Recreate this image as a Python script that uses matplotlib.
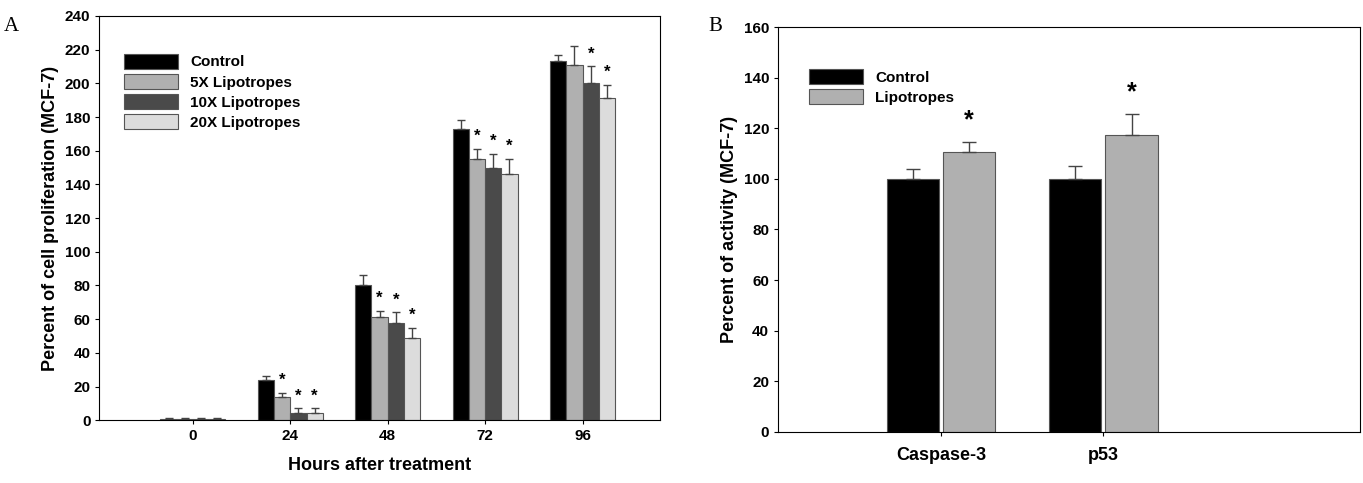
import matplotlib
matplotlib.use("Agg")
import matplotlib.pyplot as plt
import numpy as np

plt.rcParams['font.family'] = ['Liberation Sans', 'DejaVu Sans']
plt.rcParams['font.weight'] = 'bold'

hours = [0, 24, 48, 72, 96]
series_a = ["Control", "5X Lipotropes", "10X Lipotropes", "20X Lipotropes"]
colors_a = ["#000000", "#b0b0b0", "#4a4a4a", "#dcdcdc"]
vals_a = [[1, 24, 80, 173, 213],
          [1, 14, 61, 155, 211],
          [1, 4, 58, 150, 200],
          [1, 4, 49, 146, 191]]
errs_a = [[0.5, 2, 6, 5, 4],
          [0.5, 2, 4, 6, 11],
          [0.5, 3, 6, 8, 10],
          [0.5, 3, 6, 9, 8]]
stars_a = [[0, 0, 0, 0, 0],
           [0, 1, 1, 1, 0],
           [0, 1, 1, 1, 1],
           [0, 1, 1, 1, 1]]

cats_b = ["Caspase-3", "p53"]
series_b = ["Control", "Lipotropes"]
colors_b = ["#000000", "#b0b0b0"]
vals_b = [[100, 100], [110.5, 117.5]]
errs_b = [[4, 5], [4, 8]]
stars_b = [[0, 0], [1, 1]]

fig = plt.figure(figsize=(13.63, 4.83), dpi=100)
ax = fig.add_axes([0.073, 0.130, 0.411, 0.837])
w = 4.0
x = np.array(hours, dtype=float)
for i, (name, c) in enumerate(zip(series_a, colors_a)):
    pos = x + (i - 1.5) * w
    ax.bar(pos, vals_a[i], w, color=c, edgecolor="#555555", linewidth=0.8, label=name,
           yerr=[np.zeros(len(hours)), errs_a[i]],
           error_kw=dict(ecolor="#444444", elinewidth=1, capsize=3, capthick=1))
    for j in range(len(hours)):
        if stars_a[i][j]:
            ax.text(pos[j], vals_a[i][j] + errs_a[i][j] + 3, "*", ha="center", va="bottom", fontsize=12)
ax.set_xlim(-23, 115)
ax.set_ylim(0, 240)
ax.set_yticks(range(0, 241, 20))
ax.set_xticks(hours)
ax.tick_params(labelsize=11, direction="out", length=3)
ax.set_xlabel("Hours after treatment", fontsize=13, fontweight="bold", labelpad=10)
ax.set_ylabel("Percent of cell proliferation (MCF-7)", fontsize=13, fontweight="bold")
ax.legend(loc="upper left", bbox_to_anchor=(0.02, 0.94), frameon=False, fontsize=11,
          handlelength=3.5, handleheight=1.1, labelspacing=0.3)
fig.text(0.003, 0.935, "A", fontsize=15, family="Liberation Serif", fontweight="normal")

bx = fig.add_axes([0.571, 0.106, 0.427, 0.838])
wb = 0.32
xb = np.arange(len(cats_b))
for i, (name, c) in enumerate(zip(series_b, colors_b)):
    pos = xb + (i - 0.5) * wb * 1.08
    bx.bar(pos, vals_b[i], wb, color=c, edgecolor="#555555", linewidth=0.8, label=name,
           yerr=[[0, 0], errs_b[i]], error_kw=dict(ecolor="#444444", elinewidth=1, capsize=5, capthick=1))
    for j in range(len(cats_b)):
        if stars_b[i][j]:
            bx.text(pos[j], vals_b[i][j] + errs_b[i][j] + 4, "*", ha="center", va="bottom", fontsize=18)
bx.set_xlim(-1.0, 2.58)
bx.set_ylim(0, 160)
bx.set_yticks(range(0, 161, 20))
bx.set_xticks(xb)
bx.set_xticklabels(cats_b, fontsize=13)
bx.tick_params(axis="y", labelsize=11, direction="out", length=3)
bx.tick_params(axis="x", direction="out", length=3, pad=8)
bx.set_ylabel("Percent of activity (MCF-7)", fontsize=13, fontweight="bold")
bx.legend(loc="upper left", bbox_to_anchor=(0.03, 0.93), frameon=False, fontsize=11,
          handlelength=3.5, handleheight=1.1, labelspacing=0.3)
fig.text(0.52, 0.935, "B", fontsize=15, family="Liberation Serif", fontweight="normal")

fig.savefig("out.png", dpi=100)
